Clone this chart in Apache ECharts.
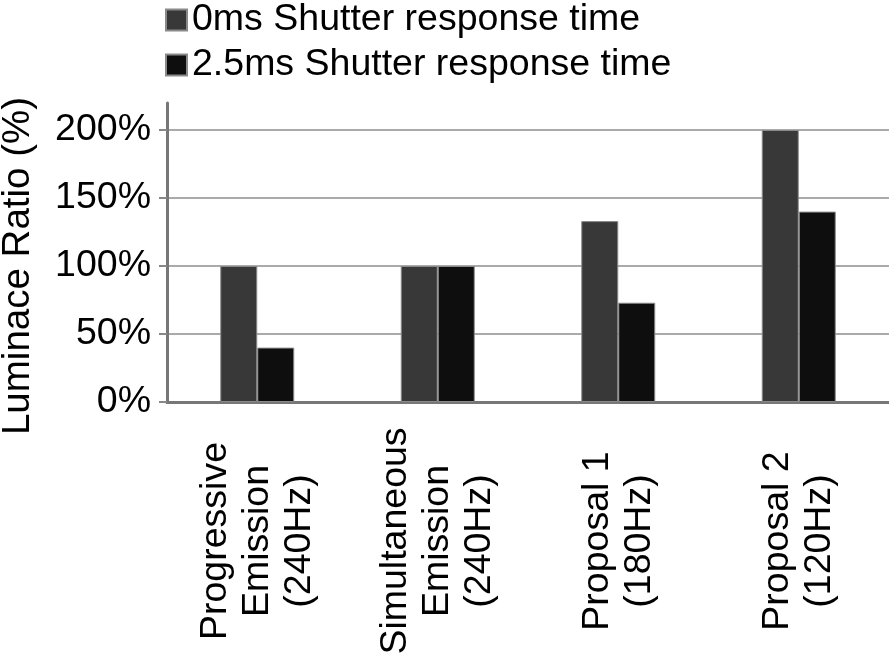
<!DOCTYPE html>
<html>
<head>
<meta charset="utf-8">
<script src="https://cdn.jsdelivr.net/npm/echarts@6/dist/echarts.min.js"></script>
<style>
html,body{margin:0;padding:0;background:#fff;}
#chart{width:889px;height:667px;}
</style>
</head>
<body>
<div id="chart"></div>
<script>
const categories = ['Progressive\nEmission\n(240Hz)', 'Simultaneous\nEmission\n(240Hz)', 'Proposal 1\n(180Hz)', 'Proposal 2\n(120Hz)'];
const seriesNames = ['0ms Shutter response time', '2.5ms Shutter response time'];
const values0ms = [100, 100, 133, 200];
const values25ms = [40, 100, 73, 140];
const yTicks = [0, 50, 100, 150, 200];

const FONT = "'Liberation Sans', Arial, Helvetica, sans-serif";
const chart = echarts.init(document.getElementById('chart'), null, {renderer: 'canvas'});
chart.setOption({
  animation: false,
  backgroundColor: '#ffffff',
  textStyle: {fontFamily: FONT, color: '#000'},
  legend: {
    orient: 'vertical',
    left: 160,
    top: -4,
    itemWidth: 21,
    itemHeight: 21,
    itemGap: 7,
    icon: 'rect',
    textStyle: {fontSize: 37.5, fontFamily: FONT, color: '#000'},
    data: seriesNames
  },
  grid: [
    {left: 167, right: 0, top: 130, bottom: 265, containLabel: false, outerBoundsMode: 'none'},
    {left: 167, right: 0, top: 103, bottom: 265, containLabel: false, outerBoundsMode: 'none'}
  ],
  xAxis: [
    {
      type: 'category',
      gridIndex: 0,
      data: categories,
      axisLine: {show: true, lineStyle: {color: '#777', width: 3}},
      axisTick: {show: false},
      axisLabel: {
        rotate: 90,
        align: 'center',
        verticalAlign: 'middle',
        margin: 139,
        fontSize: 37.5,
        lineHeight: 42,
        fontFamily: FONT,
        color: '#000',
        interval: 0
      }
    },
    {type: 'category', gridIndex: 1, show: false, data: categories}
  ],
  yAxis: [
    {
      type: 'value',
      gridIndex: 0,
      name: 'Luminace Ratio (%)',
      nameLocation: 'middle',
      nameGap: 129,
      nameRotate: 90,
      nameTextStyle: {fontSize: 38.5, fontFamily: FONT, color: '#000'},
      min: 0,
      max: 200,
      interval: 50,
      axisLine: {show: true, lineStyle: {color: '#777', width: 3}},
      axisTick: {show: true, length: 8, inside: false, lineStyle: {color: '#888', width: 2}},
      axisLabel: {
        formatter: v => yTicks.includes(v) ? v + '%' : '',
        fontSize: 37.5,
        fontFamily: FONT,
        color: '#000',
        margin: 16
      },
      splitLine: {show: true, lineStyle: {color: '#aaa', width: 2}}
    },
    {
      type: 'value',
      gridIndex: 1,
      min: 0,
      max: 220,
      axisLine: {show: true, lineStyle: {color: '#777', width: 3}},
      axisTick: {show: false},
      axisLabel: {show: false},
      splitLine: {show: false}
    }
  ],
  series: [
    {
      name: seriesNames[0],
      type: 'bar',
      xAxisIndex: 0,
      yAxisIndex: 0,
      data: values0ms,
      barWidth: 37,
      barGap: '0%',
      itemStyle: {color: '#383838', borderColor: '#8a8a8a', borderWidth: 1}
    },
    {
      name: seriesNames[1],
      type: 'bar',
      xAxisIndex: 0,
      yAxisIndex: 0,
      data: values25ms,
      barWidth: 37,
      barGap: '0%',
      itemStyle: {color: '#0e0e0e', borderColor: '#8a8a8a', borderWidth: 1}
    }
  ]
});
</script>
</body>
</html>
